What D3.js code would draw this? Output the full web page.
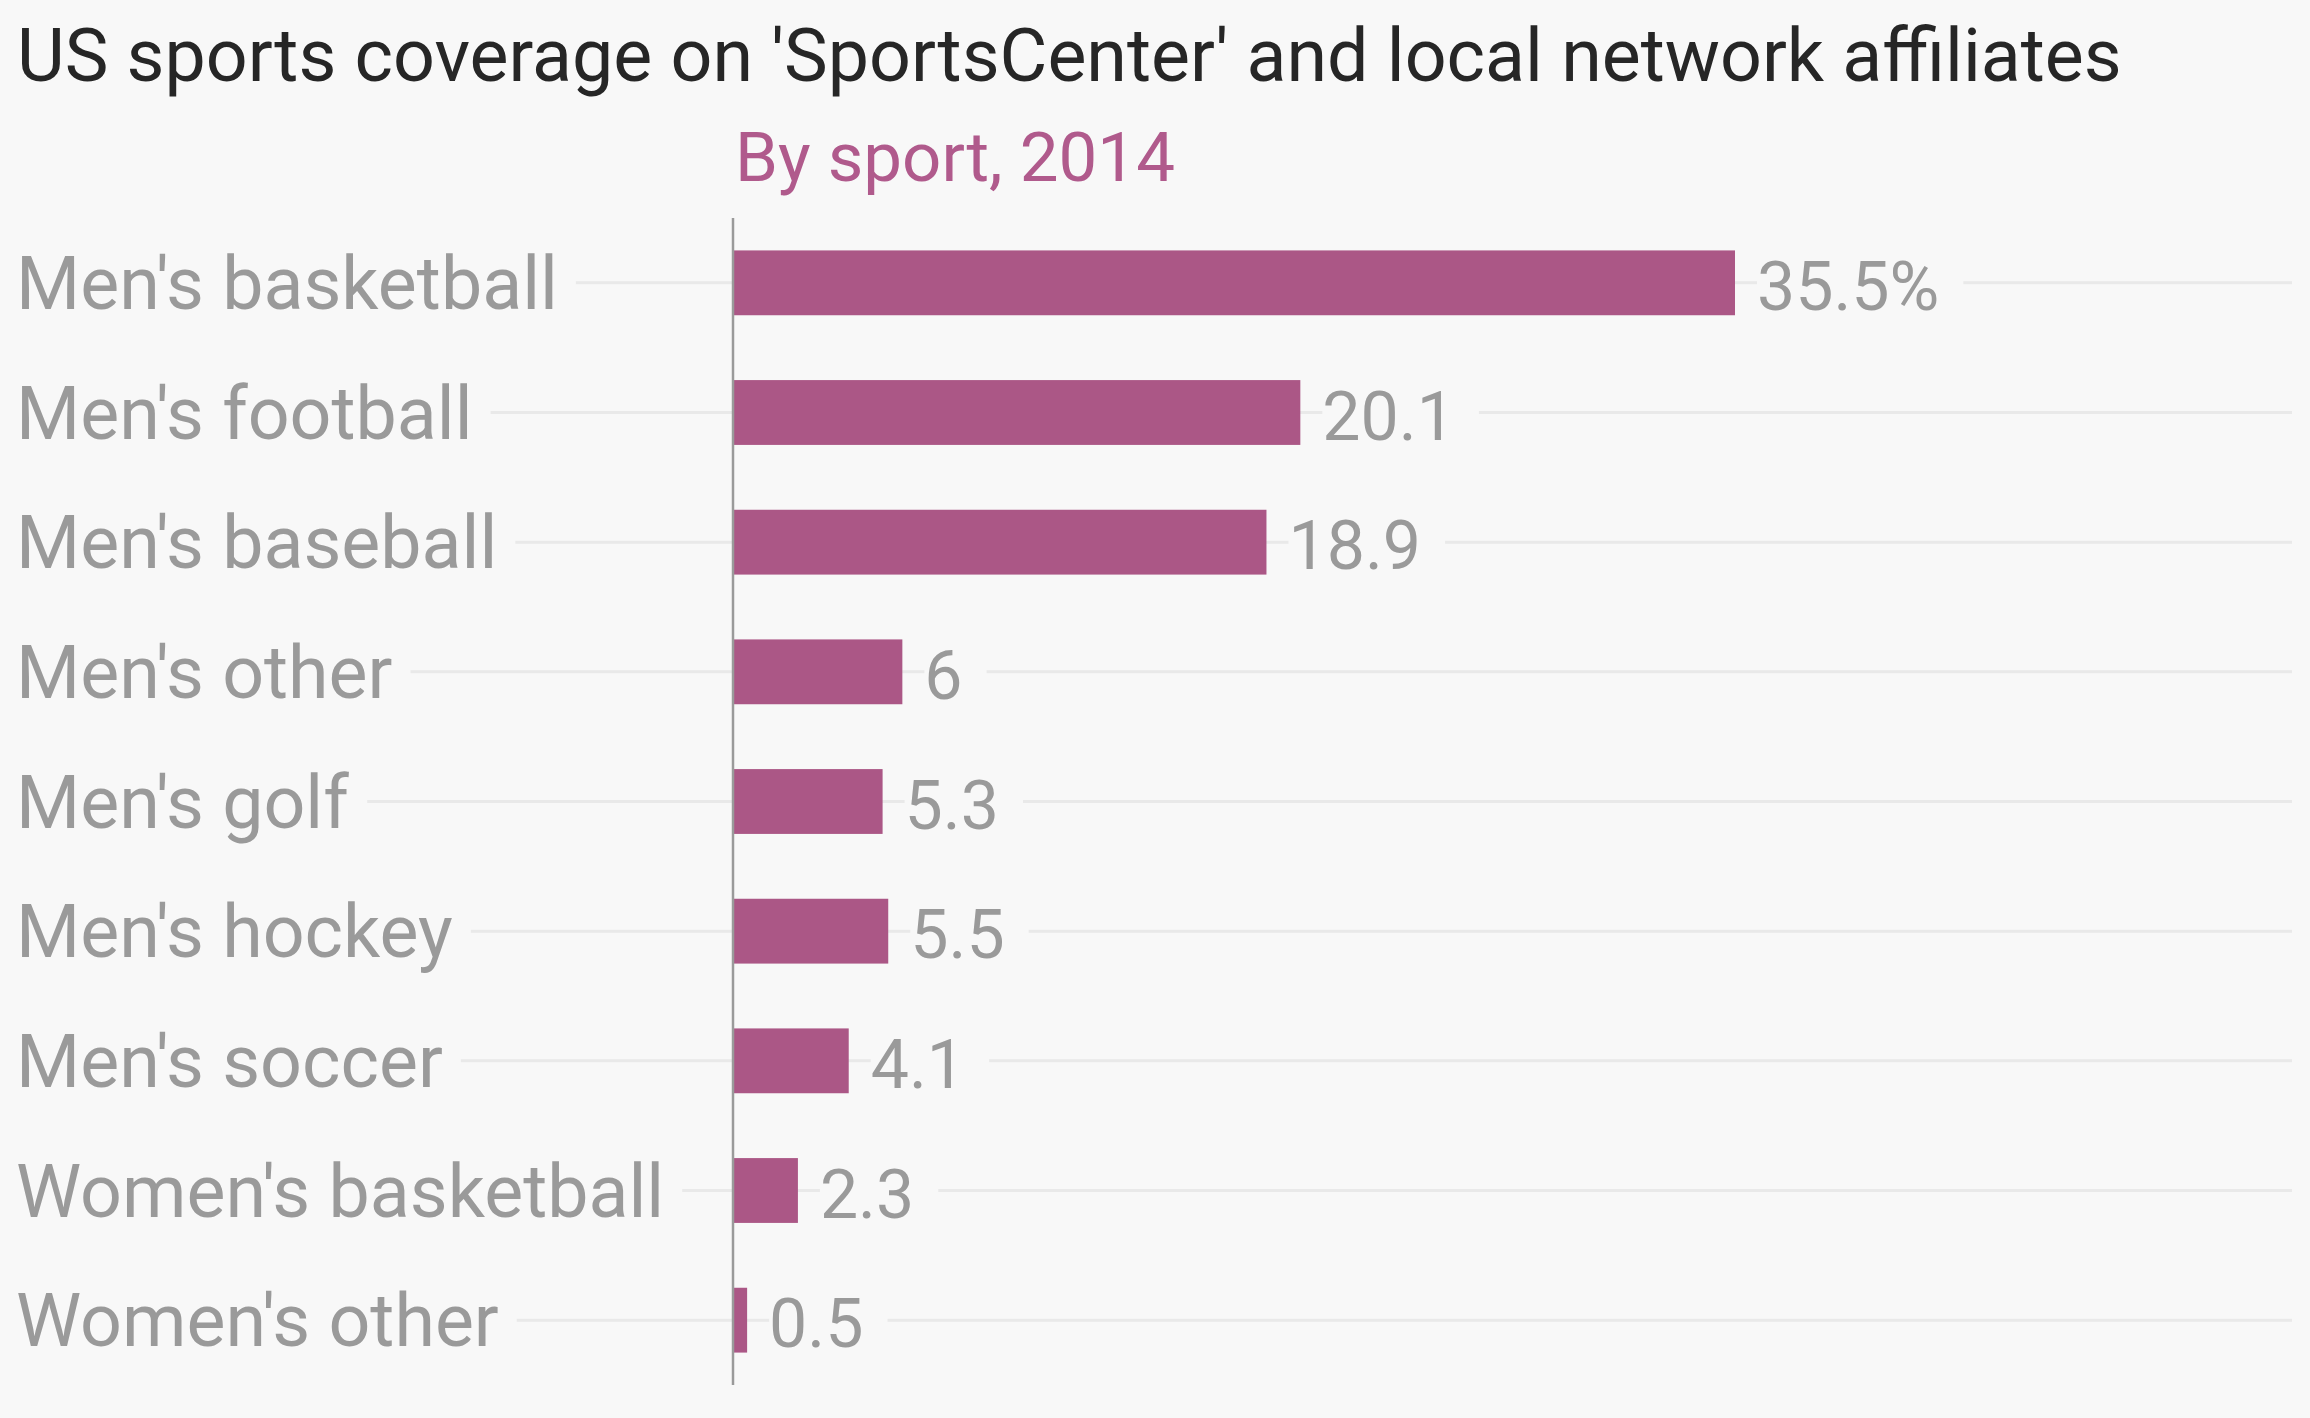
<!DOCTYPE html>
<html>
<head>
<meta charset="utf-8">
<script src="https://cdn.jsdelivr.net/npm/d3@7"></script>
<style>
  html, body { margin: 0; padding: 0; background: #f8f8f8; }
  svg { display: block; font-family: Roboto, "Noto Sans", sans-serif; }
</style>
</head>
<body>
<svg id="chart" width="2310" height="1418"></svg>
<script>
// data
var sports = ["Men's basketball", "Men's football", "Men's baseball", "Men's other",
  "Men's golf", "Men's hockey", "Men's soccer", "Women's basketball", "Women's other"];
var coverage = [35.5, 20.1, 18.9, 6, 5.3, 5.5, 4.1, 2.3, 0.5];

var title = "US sports coverage on 'SportsCenter' and local network affiliates";
var subtitle = "By sport, 2014";

var W = 2310, H = 1418;
var axisX = 733, rightEdge = 2292;
var barColor = '#ab5786';

var svg = d3.select('#chart');

svg.append('rect').attr('width', W).attr('height', H).attr('fill', '#f8f8f8');

var x = d3.scaleLinear()
  .domain([0, d3.max(coverage)])
  .range([axisX, 1735]);

var y = d3.scaleBand()
  .domain(sports)
  .range([218, 1385])
  .paddingInner(0.5)
  .paddingOuter(0.25);

var rows = sports.map(function(s, i){ return {name: s, value: coverage[i], i: i}; });

// titles
svg.append('text')
  .attr('x', 17).attr('y', 81)
  .attr('fill', '#262626')
  .attr('font-size', 73.5)
  .text(title);

svg.append('text')
  .attr('x', axisX + 2).attr('y', 181)
  .attr('fill', '#b05a8c')
  .attr('font-size', 69)
  .text(subtitle);

// gridlines
svg.append('g').selectAll('line')
  .data(rows)
  .enter().append('line')
  .attr('x1', 0)
  .attr('x2', rightEdge)
  .attr('y1', function(d){ return y(d.name) + y.bandwidth() / 2; })
  .attr('y2', function(d){ return y(d.name) + y.bandwidth() / 2; })
  .attr('stroke', '#e9e9e9')
  .attr('stroke-width', 3);

// category labels with a background patch to break the gridline
var catG = svg.append('g');
var cats = catG.selectAll('g')
  .data(rows)
  .enter().append('g');
cats.append('rect').attr('class', 'bg');
cats.append('text')
  .attr('x', 16)
  .attr('y', function(d){ return y(d.name) + y.bandwidth() / 2 + 26; })
  .attr('fill', '#9a9a9a')
  .attr('font-size', 73.5)
  .text(function(d){ return d.name; });
cats.each(function(){
  var g = d3.select(this);
  var bb = g.select('text').node().getBBox();
  g.select('rect')
    .attr('x', 0).attr('y', bb.y)
    .attr('width', bb.x + bb.width + 18).attr('height', bb.height)
    .attr('fill', '#f8f8f8');
});

// bars
svg.append('g').selectAll('rect')
  .data(rows)
  .enter().append('rect')
  .attr('x', x(0))
  .attr('y', function(d){ return y(d.name); })
  .attr('width', function(d){ return x(d.value) - x(0); })
  .attr('height', y.bandwidth())
  .attr('fill', barColor);

// value labels
var vals = svg.append('g').selectAll('g')
  .data(rows)
  .enter().append('g');
vals.append('rect');
vals.append('text')
  .attr('x', function(d){ return x(d.value) + 22; })
  .attr('y', function(d){ return y(d.name) + y.bandwidth() / 2 + 27; })
  .attr('fill', '#9a9a9a')
  .attr('font-size', 68)
  .text(function(d){ return d.i === 0 ? d.value + '%' : String(d.value); });
vals.each(function(){
  var g = d3.select(this);
  var bb = g.select('text').node().getBBox();
  g.select('rect')
    .attr('x', bb.x).attr('y', bb.y)
    .attr('width', bb.width + 24).attr('height', bb.height)
    .attr('fill', '#f8f8f8');
});

// axis line
svg.append('line')
  .attr('x1', axisX).attr('x2', axisX)
  .attr('y1', y.range()[0]).attr('y2', y.range()[1])
  .attr('stroke', '#9a9a9a')
  .attr('stroke-width', 2.5);
</script>
</body>
</html>
